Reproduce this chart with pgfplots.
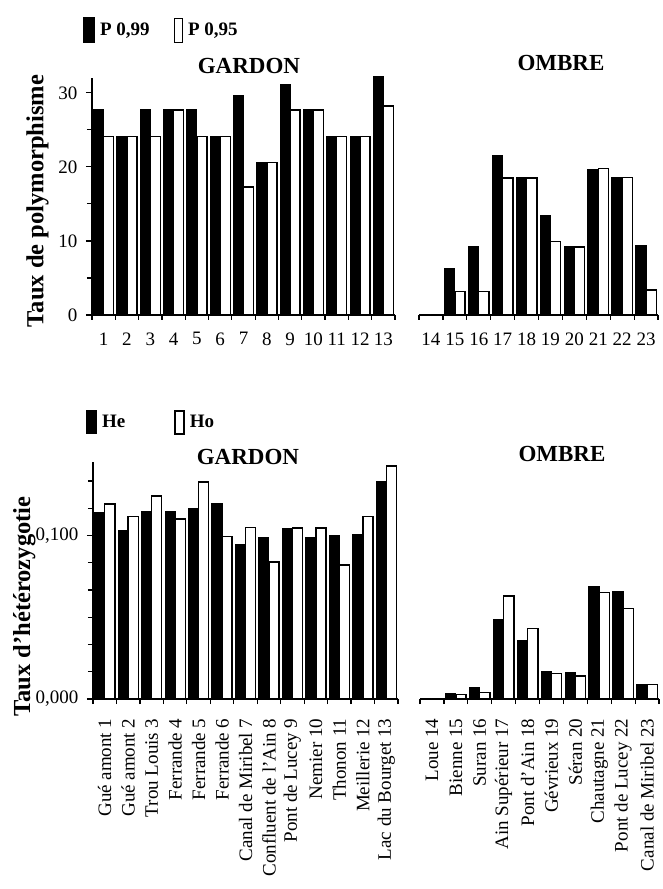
\documentclass[border=0pt]{standalone}
\usepackage{pgfplots}
\pgfplotsset{compat=1.18}
\usepackage{pgfplotstable}
\usepackage{fontspec}
\setmainfont{Liberation Serif}

\pgfplotstableread{
x p99 p95
1 27.7 24.1
2 24.1 24.1
3 27.7 24.1
4 27.7 27.7
5 27.7 24.1
6 24.1 24.1
7 29.7 17.3
8 20.6 20.6
9 31.1 27.7
10 27.7 27.7
11 24.1 24.1
12 24.1 24.1
13 32.2 28.2
}\gardonpoly

\pgfplotstableread{
x p99 p95
14 0 0
15 6.3 3.2
16 9.2 3.2
17 21.5 18.5
18 18.5 18.5
19 13.4 9.9
20 9.2 9.2
21 19.7 19.8
22 18.6 18.6
23 9.4 3.4
}\ombrepoly

\pgfplotstableread{
x he ho
1 0.1139 0.1192
2 0.1031 0.1118
3 0.1149 0.1241
4 0.1149 0.1102
5 0.1167 0.1327
6 0.1198 0.0996
7 0.0945 0.1051
8 0.0990 0.0837
9 0.1045 0.1045
10 0.0990 0.1045
11 0.0998 0.0821
12 0.1008 0.1116
13 0.1333 0.1425
}\gardonhet

\pgfplotstableread{
x he ho
14 0 0
15 0.0035 0.0027
16 0.0069 0.0039
17 0.0484 0.0631
18 0.0359 0.0431
19 0.0169 0.0157
20 0.0161 0.0141
21 0.0686 0.0651
22 0.0655 0.0555
23 0.0090 0.0090
}\ombrehet

\pgfplotsset{
  base/.style={
    scale only axis,
    anchor=south west,
    height=237pt,
    ybar, bar width=0.43,
    enlargelimits=false,
    clip=false,
    axis x line*=bottom,
    axis line style={line width=1.4pt,-},
    tick align=outside,
    major tick length=6pt,
    minor tick length=5pt,
    major x tick style={draw=none},
    minor x tick style={line width=1.2pt,black},
    major y tick style={line width=1.2pt,black},
    minor y tick style={line width=1.2pt,black},
    /pgf/number format/assume math mode=true,
    tick label style={font=\fontsize{19}{22}\selectfont},
    yticklabel shift=5pt,
    title style={font=\bfseries\fontsize{23}{26}\selectfont, anchor=center},
    ylabel style={font=\bfseries\fontsize{24.5}{28}\selectfont, anchor=center},
  },
  blackbar/.style={fill=black, draw=black, line width=1pt, bar shift=-0.215},
  whitebar/.style={fill=white, draw=black, line width=1.4pt, bar shift=0.215},
  legA/.style={legend image code/.code={\draw[##1] (0pt,-13pt) rectangle (11pt,12pt);}},
  legB/.style={legend image code/.code={\draw[##1] (0pt,-13pt) rectangle (8pt,11pt);}},
  legC/.style={legend image code/.code={\draw[##1] (0pt,-12pt) rectangle (10pt,11pt);}},
  legD/.style={legend image code/.code={\draw[##1] (0pt,-12pt) rectangle (9pt,11pt);}},
}

\begin{document}
\begin{tikzpicture}
\useasboundingbox (0pt,0pt) rectangle (662pt,889pt);

% ---------- top left: GARDON polymorphism ----------
\begin{axis}[base,
  at={(92pt,574pt)}, width=303pt,
  xmin=0.5, xmax=13.5, ymin=0, ymax=32,
  axis y line*=left,
  xtick={1,...,13},
  minor xtick={0.5,1.5,...,13.5},
  xticklabel shift=8pt,
  ytick={0,10,20,30},
  minor ytick={5,15,25},
  title={GARDON},
  title style={at={(axis description cs:0.518,1.027)}},
  ylabel={Taux de polymorphisme},
  ylabel style={at={(axis description cs:-0.18,0.481)}},
  legend columns=2,
  legend style={at={(axis description cs:-0.03,1.257)}, anchor=north west,
    draw=none, fill=none, inner sep=0pt,
    font=\bfseries\fontsize{19}{22}\selectfont,
    /tikz/every even column/.append style={column sep=22pt}},
]
\addplot[blackbar, legA] table[x=x,y=p99]{\gardonpoly};
\addlegendentry{\hspace{3pt}P 0,99}
\addplot[whitebar, legB] table[x=x,y=p95]{\gardonpoly};
\addlegendentry{\hspace{3pt}P 0,95}
\end{axis}

% ---------- top right: OMBRE polymorphism ----------
\begin{axis}[base,
  at={(419pt,574pt)}, width=239pt,
  xmin=13.5, xmax=23.5, ymin=0, ymax=32,
  axis y line=none,
  xtick={14,...,23},
  minor xtick={13.5,14.5,...,23.5},
  xticklabel shift=8pt,
  title={OMBRE},
  title style={at={(axis description cs:0.594,1.038)}},
]
\addplot[blackbar] table[x=x,y=p99]{\ombrepoly};
\addplot[whitebar] table[x=x,y=p95]{\ombrepoly};
\end{axis}

% ---------- bottom left: GARDON heterozygosity ----------
\begin{axis}[base,
  at={(93pt,190pt)}, width=305pt,
  xmin=0.5, xmax=13.5, ymin=0, ymax=0.145,
  axis y line*=left,
  xtick={1,...,13},
  minor xtick={0.5,1.5,...,13.5},
  xticklabels={{Gué amont 1},{Gué amont 2},{Trou Louis 3},{Ferrande 4},{Ferrande 5},{Ferrande 6},{Canal de Miribel 7},{Confluent de l'Ain 8},{Pont de Lucey 9},{Nemier 10},{Thonon 11},{Meillerie 12},{Lac du Bourget 13}},
  x tick label style={rotate=90, anchor=east},
  xticklabel shift=10pt,
  ytick={0,0.1},
  minor ytick={0.016667,0.033333,0.05,0.066667,0.083333,0.116667,0.133333},
  scaled y ticks=false,
  yticklabel style={/pgf/number format/.cd, fixed, fixed zerofill, precision=3, use comma},
  title={GARDON},
  title style={at={(axis description cs:0.508,0.997)}},
  ylabel={Taux d'hétérozygotie},
  ylabel style={at={(axis description cs:-0.225,0.39)}},
  legend columns=2,
  legend style={at={(axis description cs:-0.023,1.219)}, anchor=north west,
    draw=none, fill=none, inner sep=0pt,
    font=\bfseries\fontsize{19}{22}\selectfont,
    /tikz/every even column/.append style={column sep=47pt}},
]
\addplot[blackbar, legC] table[x=x,y=he]{\gardonhet};
\addlegendentry{\hspace{3pt}He}
\addplot[whitebar, legD] table[x=x,y=ho]{\gardonhet};
\addlegendentry{\hspace{3pt}Ho}
\end{axis}

% ---------- bottom right: OMBRE heterozygosity ----------
\begin{axis}[base,
  at={(420pt,190pt)}, width=239pt,
  xmin=13.5, xmax=23.5, ymin=0, ymax=0.145,
  axis y line=none,
  xtick={14,...,23},
  minor xtick={13.5,14.5,...,23.5},
  xticklabels={{Loue 14},{Bienne 15},{Suran 16},{Ain Supérieur 17},{Pont d'Ain 18},{Gévrieux 19},{Séran 20},{Chautagne 21},{Pont de Lucey 22},{Canal de Miribel 23}},
  x tick label style={rotate=90, anchor=east},
  xticklabel shift=10pt,
  title={OMBRE},
  title style={at={(axis description cs:0.594,1.01)}},
]
\addplot[blackbar] table[x=x,y=he]{\ombrehet};
\addplot[whitebar] table[x=x,y=ho]{\ombrehet};
\end{axis}
\end{tikzpicture}
\end{document}
